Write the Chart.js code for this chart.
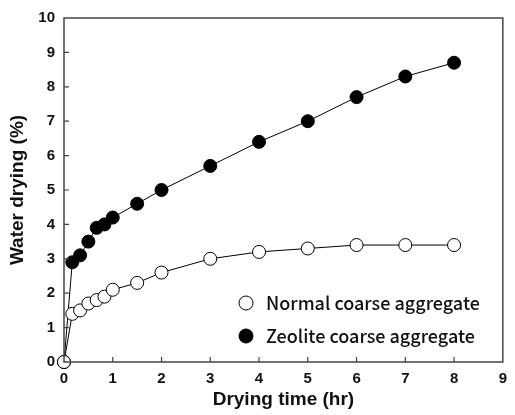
<!DOCTYPE html>
<html>
<head>
<meta charset="utf-8">
<script src="https://cdn.jsdelivr.net/npm/chart.js@4.4.1/dist/chart.umd.min.js"></script>
<style>
  html, body { margin: 0; padding: 0; background: #fff; }
  #wrap { width: 515px; height: 415px; }
</style>
</head>
<body>
<div id="wrap"><canvas id="chart-drying"></canvas></div>
<script>
// drying time (hr)
const dryingTime = [0, 0.17, 0.33, 0.5, 0.67, 0.83, 1, 1.5, 2, 3, 4, 5, 6, 7, 8];
// water drying (%)
const normalValues = [0, 1.4, 1.5, 1.7, 1.8, 1.9, 2.1, 2.3, 2.6, 3.0, 3.2, 3.3, 3.4, 3.4, 3.4];
const zeoliteValues = [0, 2.9, 3.1, 3.5, 3.9, 4.0, 4.2, 4.6, 5.0, 5.7, 6.4, 7.0, 7.7, 8.3, 8.7];
const xTicks = [0, 1, 2, 3, 4, 5, 6, 7, 8, 9];
const yTicks = [0, 1, 2, 3, 4, 5, 6, 7, 8, 9, 10];

const seriesNames = ["Normal coarse aggregate", "Zeolite coarse aggregate"];

function toPoints(values) {
  return dryingTime.map((t, i) => ({ x: t, y: values[i] }));
}

// box + inward ticks
const frame = {
  id: "frame",
  afterDatasetsDraw(chart) {
    const { ctx, chartArea: a, scales } = chart;
    ctx.save();
    ctx.strokeStyle = "#444";
    ctx.lineWidth = 1.5;
    ctx.strokeRect(a.left, a.top, a.right - a.left, a.bottom - a.top);
    ctx.lineWidth = 1.2;
    ctx.beginPath();
    xTicks.forEach(v => {
      if (v === 0 || v === 9) return;
      const px = scales.x.getPixelForValue(v);
      ctx.moveTo(px, a.bottom);
      ctx.lineTo(px, a.bottom - 5);
    });
    yTicks.forEach(v => {
      if (v === 0 || v === 10) return;
      const py = scales.y.getPixelForValue(v);
      ctx.moveTo(a.left, py);
      ctx.lineTo(a.left + 5, py);
    });
    ctx.stroke();
    ctx.restore();
  }
};

// legend inside the plot, lower right
const innerLegend = {
  id: "innerLegend",
  afterDraw(chart) {
    const { ctx, chartArea: a } = chart;
    ctx.save();
    ctx.font = "500 18px 'Noto Sans CJK KR', 'Noto Sans', sans-serif";
    ctx.textBaseline = "middle";
    chart.data.datasets.forEach((ds, i) => {
      const cx = a.left + 182;
      const cy = a.bottom - 59 + i * 33;
      ctx.beginPath();
      ctx.arc(cx, cy, 7, 0, Math.PI * 2);
      ctx.fillStyle = ds.pointBackgroundColor;
      ctx.fill();
      ctx.lineWidth = 1;
      ctx.strokeStyle = "#000";
      ctx.stroke();
      ctx.fillStyle = "#111";
      ctx.fillText(ds.label, cx + 20, cy);
    });
    ctx.restore();
  }
};

const tickFont = { family: "'Liberation Sans', Arial, sans-serif", size: 15, weight: "bold" };
const titleFont = { family: "'Liberation Sans', Arial, sans-serif", size: 19, weight: "bold" };

new Chart(document.getElementById("chart-drying"), {
  type: "scatter",
  data: {
    datasets: [{
      label: seriesNames[0],
      data: toPoints(normalValues),
      showLine: true,
      borderColor: "#000",
      borderWidth: 1,
      pointBackgroundColor: "#fff",
      pointBorderColor: "#000",
      pointBorderWidth: 1,
      pointRadius: 6.5,
      tension: 0,
      clip: false
    }, {
      label: seriesNames[1],
      data: toPoints(zeoliteValues),
      showLine: true,
      borderColor: "#000",
      borderWidth: 1,
      pointBackgroundColor: "#000",
      pointBorderColor: "#000",
      pointBorderWidth: 1,
      pointRadius: 6.5,
      tension: 0,
      clip: false
    }]
  },
  options: {
    responsive: true,
    maintainAspectRatio: false,
    animation: false,
    layout: { padding: { top: 15, right: 7, left: 0, bottom: 0 } },
    plugins: {
      legend: { display: false },
      tooltip: { enabled: false }
    },
    scales: {
      x: {
        type: "linear",
        min: 0,
        max: 9,
        grid: { display: false, drawTicks: false },
        border: { display: false },
        afterBuildTicks: s => { s.ticks = xTicks.map(v => ({ value: v })); },
        afterFit: s => { s.height = 53; },
        ticks: { padding: 8, color: "#111", font: tickFont },
        title: {
          display: true,
          text: "Drying time (hr)",
          color: "#111",
          padding: { top: 2 },
          font: titleFont
        }
      },
      y: {
        type: "linear",
        min: 0,
        max: 10,
        grid: { display: false, drawTicks: false },
        border: { display: false },
        afterBuildTicks: s => { s.ticks = yTicks.map(v => ({ value: v })); },
        afterFit: s => { s.width = 64; },
        ticks: { padding: 9, color: "#111", font: tickFont },
        title: {
          display: true,
          text: "Water drying (%)",
          color: "#111",
          padding: { top: 6, bottom: 0 },
          font: titleFont
        }
      }
    }
  },
  plugins: [frame, innerLegend]
});
</script>
</body>
</html>
